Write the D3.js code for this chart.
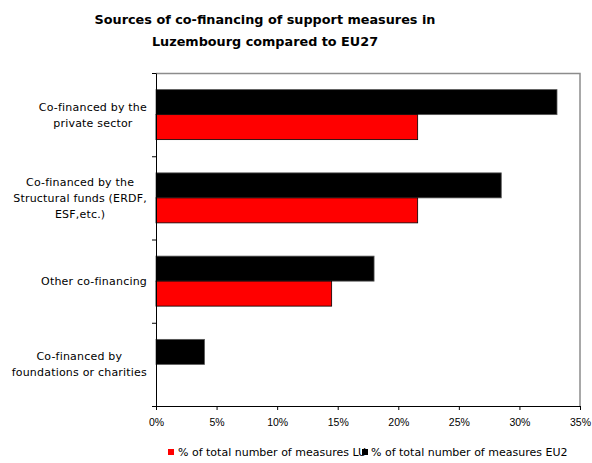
<!DOCTYPE html>
<html>
<head>
<meta charset="utf-8">
<script src="https://cdn.jsdelivr.net/npm/d3@7"></script>
<style>
  body { margin: 0; background: #fff; }
  svg { display: block; font-family: "DejaVu Sans", sans-serif; }
  .axis text { font-size: 10.5px; fill: #000; }
  .axis path, .axis line { stroke: #000; }
</style>
</head>
<body>
<div id="chart-area"></div>
<script>
var categories = [
    ["Co-financed by the", "private sector"],
    ["Co-financed by the", "Structural funds (ERDF,", "ESF,etc.)"],
    ["Other co-financing"],
    ["Co-financed by", "foundations or charities"]
];
var seriesNames = ["EU27", "LU"];
var valuesEU27 = [0.331, 0.285, 0.180, 0.040];
var valuesLU = [0.216, 0.216, 0.145, 0];
var xTicks = [0, 0.05, 0.10, 0.15, 0.20, 0.25, 0.30, 0.35];
var legendLabels = ["% of total number of measures LU", "% of total number of measures EU2"];

var margin = {top: 73, left: 156, bottom: 57, right: 12},
    width = 592 - margin.left - margin.right,
    height = 463 - margin.top - margin.bottom;

var svg = d3.select("#chart-area").append("svg")
    .attr("width", 592)
    .attr("height", 463);

// title
var title = svg.append("text")
    .attr("text-anchor", "middle")
    .attr("font-weight", "bold")
    .attr("font-size", "12.8px");
title.append("tspan").attr("x", 265).attr("y", 24).text("Sources of co-financing of support measures in");
title.append("tspan").attr("x", 265).attr("y", 46).text("Luzembourg compared to EU27");

var g = svg.append("g")
    .attr("transform", "translate(" + margin.left + ", " + margin.top + ")");

var idx = d3.range(categories.length);
var y = d3.scaleBand().domain(idx).range([0, height]);
var ySub = d3.scaleBand().domain(seriesNames).range([0, y.bandwidth()]).paddingOuter(0.665);
var x = d3.scaleLinear().domain([0, 0.35]).range([0, width]);
var color = d3.scaleOrdinal().domain(seriesNames).range(["#000000", "#ff0000"]);

// plot frame (top and right)
g.append("path")
    .attr("d", "M0,0.5H" + x(0.35) + "V" + height)
    .attr("fill", "none")
    .attr("stroke", "#8c8c8c")
    .attr("stroke-width", 1.5);

var data = [];
idx.forEach(function(i) {
    data.push({cat: i, s: "EU27", v: valuesEU27[i]});
    data.push({cat: i, s: "LU", v: valuesLU[i]});
});

g.selectAll("rect.bar").data(data.filter(function(d) { return d.v > 0; }))
    .enter().append("rect")
    .attr("class", "bar")
    .attr("x", x(0))
    .attr("y", function(d) { return y(d.cat) + ySub(d.s); })
    .attr("width", function(d) { return x(d.v) - x(0); })
    .attr("height", ySub.bandwidth())
    .attr("fill", function(d) { return color(d.s); })
    .attr("stroke", function(d) { return d.s == "EU27" ? "#555" : "#000"; })
    .attr("stroke-width", 0.8);

// x axis
var xAxisCall = d3.axisBottom(x)
    .tickValues(xTicks)
    .tickFormat(d3.format(".0%"))
    .tickSize(4)
    .tickSizeOuter(0);
g.append("g")
    .attr("class", "x axis")
    .attr("transform", "translate(0, " + height + ")")
    .call(xAxisCall)
    .selectAll("text").attr("dy", "1.2em");

// y axis, ticks between categories
var yLin = d3.scaleLinear().domain([0, categories.length]).range([0, height]);
g.append("g")
    .attr("class", "y axis")
    .call(d3.axisLeft(yLin).tickValues(d3.range(categories.length + 1)).tickFormat("").tickSize(4).tickSizeOuter(0));

// category labels: block right aligned, lines centered in block
var lineH = 16;
categories.forEach(function(lines, i) {
    var t = svg.append("text").attr("font-size", "11px").attr("letter-spacing", "0.2px").attr("text-anchor", "middle");
    var cy = margin.top + y(i) + y.bandwidth() / 2;
    var spans = lines.map(function(l, j) {
        return t.append("tspan").attr("y", cy + (j - (lines.length - 1) / 2) * lineH + 4).text(l);
    });
    var w = d3.max(spans, function(s) { return s.node().getComputedTextLength(); });
    spans.forEach(function(s) { s.attr("x", 147 - w / 2); });
});

// legend
var lg = svg.append("g").attr("font-size", "11px");
lg.append("text").attr("x", 178).attr("y", 456).text(legendLabels[0]);
lg.append("rect").attr("x", 168).attr("y", 449).attr("width", 6).attr("height", 6).attr("fill", color("LU"));
lg.append("text").attr("x", 371).attr("y", 456).text(legendLabels[1]);
lg.append("rect").attr("x", 362).attr("y", 449).attr("width", 6).attr("height", 6).attr("fill", color("EU27"));
</script>
</body>
</html>
